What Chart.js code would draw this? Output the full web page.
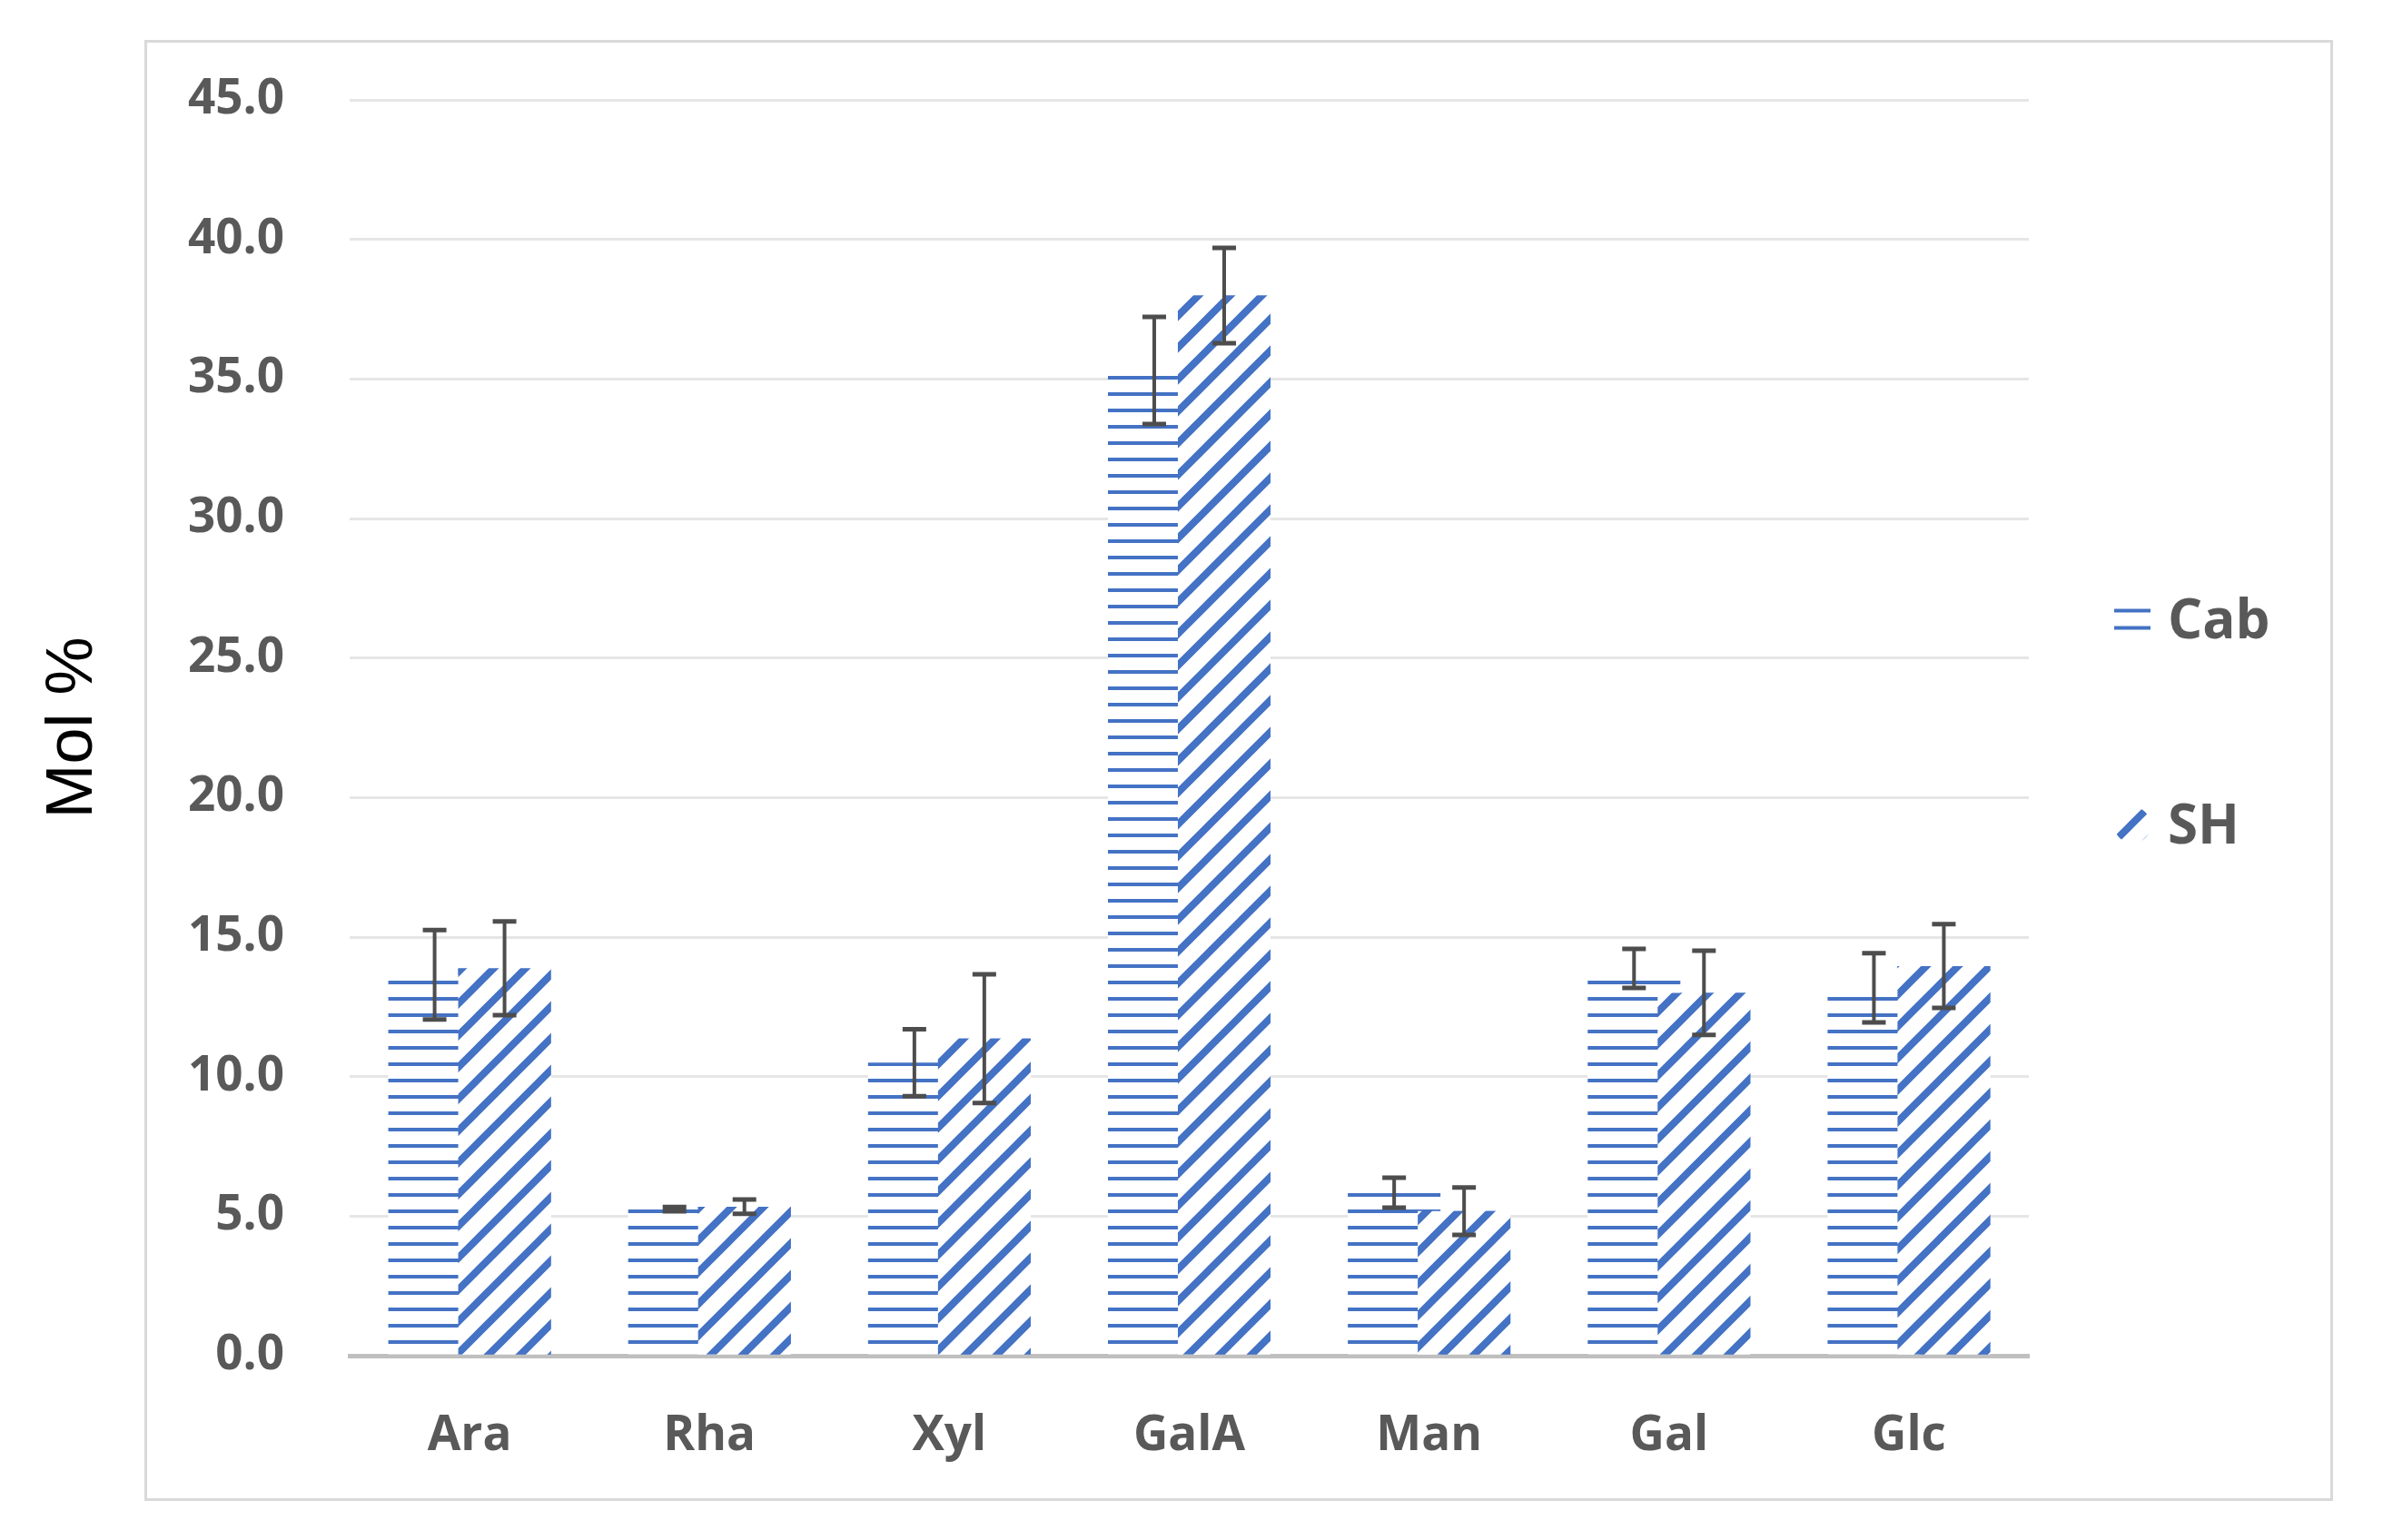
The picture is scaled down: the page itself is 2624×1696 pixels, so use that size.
<!DOCTYPE html>
<html>
<head>
<meta charset="utf-8">
<script src="https://cdn.jsdelivr.net/npm/chart.js@4.4.0/dist/chart.umd.min.js"></script>
<style>
  html, body { margin: 0; padding: 0; background: #fff; }
  #wrap { position: relative; width: 2624px; height: 1696px; }
  #frame { position: absolute; left: 159px; top: 44px; width: 2404px; height: 1603px; border: 3px solid #d9d9d9; }
  #chart { position: absolute; left: 0; top: 0; }
</style>
</head>
<body>
<div id="wrap">
  <div id="frame"></div>
  <canvas id="chart" width="2624" height="1696"></canvas>
</div>
<script>
const categories = ["Ara", "Rha", "Xyl", "GalA", "Man", "Gal", "Glc"];
const seriesNames = ["Cab", "SH"];
const cabValues = [13.65, 5.25, 10.5, 35.3, 5.84, 13.88, 13.18];
const cabErrors = [1.6, 0.08, 1.2, 1.92, 0.54, 0.7, 1.24];
const shValues = [13.88, 5.34, 11.36, 37.99, 5.18, 13.0, 13.96];
const shErrors = [1.68, 0.26, 2.31, 1.71, 0.85, 1.51, 1.5];

const BLUE = "#4472C4";
const TEXT = "#595959";

// horizontal stripes for Cab, on white like Excel pattern fills
function makeStripes() {
    const c = document.createElement("canvas");
    c.width = 18;
    c.height = 18;
    const g = c.getContext("2d");
    g.fillStyle = "#fff";
    g.fillRect(0, 0, 18, 18);
    g.fillStyle = BLUE;
    g.fillRect(0, 0, 18, 4);
    return g.createPattern(c, "repeat");
}

// "/" diagonal stripes for SH
function makeDiagonals() {
    const size = 35;
    const c = document.createElement("canvas");
    c.width = size;
    c.height = size;
    const g = c.getContext("2d");
    g.fillStyle = "#fff";
    g.fillRect(0, 0, size, size);
    g.strokeStyle = BLUE;
    g.lineWidth = 8;
    g.lineCap = "square";
    for (let x0 = -size; x0 <= size; x0 += size) {
        g.beginPath();
        g.moveTo(x0 - 6, size + 6);
        g.lineTo(x0 + size + 6, -6);
        g.stroke();
    }
    return g.createPattern(c, "repeat");
}

const stripes = makeStripes();
const diagonals = makeDiagonals();

const errorBars = {
    id: "errorBars",
    afterDatasetsDraw(chart) {
        // SH overlaps Cab a little, draw it again so it sits on top
        chart.getDatasetMeta(1).controller.draw();

        const ctx = chart.ctx;
        const yScale = chart.scales.y;
        ctx.save();
        ctx.strokeStyle = "#4d4d4d";
        [cabErrors, shErrors].forEach((errs, di) => {
            const meta = chart.getDatasetMeta(di);
            const vals = chart.data.datasets[di].data;
            meta.data.forEach((bar, i) => {
                const x = bar.x;
                const top = yScale.getPixelForValue(vals[i] + errs[i]);
                const bot = yScale.getPixelForValue(vals[i] - errs[i]);
                ctx.lineWidth = 4;
                ctx.beginPath();
                ctx.moveTo(x, top);
                ctx.lineTo(x, bot);
                ctx.stroke();
                ctx.lineWidth = 5;
                ctx.beginPath();
                ctx.moveTo(x - 13, top);
                ctx.lineTo(x + 13, top);
                ctx.moveTo(x - 13, bot);
                ctx.lineTo(x + 13, bot);
                ctx.stroke();
            });
        });
        ctx.restore();
    }
};

const sideLegend = {
    id: "sideLegend",
    afterDraw(chart) {
        const { ctx, chartArea } = chart;
        const mid = (chartArea.top + chartArea.bottom) / 2;
        const x = chartArea.right + 94;
        ctx.save();

        // Cab marker: two short lines
        ctx.fillStyle = BLUE;
        ctx.fillRect(x, mid - 131, 40, 4);
        ctx.fillRect(x, mid - 112, 40, 4);

        // SH marker: round patch of the diagonal pattern
        ctx.beginPath();
        ctx.arc(x + 20, mid + 107, 20, 0, Math.PI * 2);
        ctx.save();
        ctx.clip();
        ctx.fillStyle = diagonals;
        ctx.fillRect(x, mid + 87, 40, 40);
        ctx.restore();

        ctx.fillStyle = TEXT;
        ctx.font = "bold 60px 'Open Sans'";
        ctx.textBaseline = "alphabetic";
        ctx.fillText(seriesNames[0], x + 59, mid - 99);
        ctx.fillText(seriesNames[1], x + 59, mid + 127);
        ctx.restore();
    }
};

Chart.defaults.font.family = "'Open Sans'";

const chart = new Chart(document.getElementById("chart").getContext("2d"), {
    type: "bar",
    data: {
        labels: categories,
        datasets: [
            {
                label: seriesNames[0],
                data: cabValues,
                backgroundColor: stripes,
                borderWidth: 0,
                categoryPercentage: 0.583,
                barPercentage: 1.325
            },
            {
                label: seriesNames[1],
                data: shValues,
                backgroundColor: diagonals,
                borderWidth: 0,
                categoryPercentage: 0.583,
                barPercentage: 1.325
            }
        ]
    },
    options: {
        responsive: false,
        animation: false,
        devicePixelRatio: 1,
        layout: { padding: { top: 110, right: 390, left: 0, bottom: 0 } },
        plugins: {
            legend: { display: false },
            tooltip: { enabled: false }
        },
        scales: {
            x: {
                grid: { display: false, drawTicks: false },
                border: { color: "#bfbfbf", width: 5 },
                ticks: {
                    padding: 57,
                    color: TEXT,
                    font: { size: 53, weight: "bold" }
                },
                afterFit(scale) { scale.height = 203; }
            },
            y: {
                min: 0,
                max: 45,
                grid: { color: "#e6e6e6", lineWidth: 3, drawTicks: false },
                border: { display: false },
                ticks: {
                    stepSize: 5,
                    padding: 72,
                    color: TEXT,
                    font: { size: 53, weight: "bold" },
                    callback: v => v.toFixed(1)
                },
                title: {
                    display: true,
                    text: "Mol %",
                    color: "#000",
                    font: { family: "'Liberation Sans'", size: 72, weight: "normal" },
                    padding: { top: 38, bottom: 0 }
                },
                afterFit(scale) { scale.width = 385; }
            }
        }
    },
    plugins: [errorBars, sideLegend]
});
</script>
</body>
</html>
